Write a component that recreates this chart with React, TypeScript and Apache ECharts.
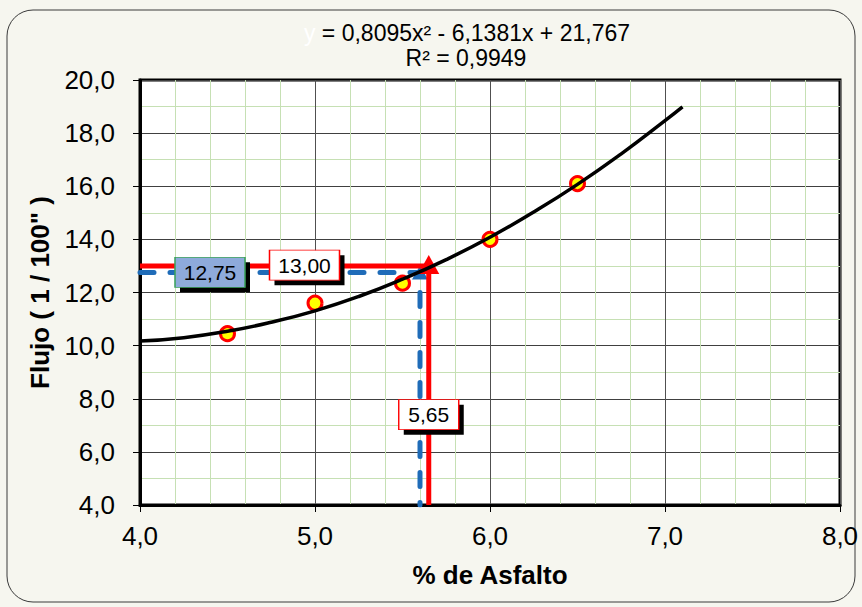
import React, { useEffect, useRef } from "react";
import * as echarts from "echarts";

// Measured points (% asfalto, flujo)
const asphaltPct = [4.5, 5.0, 5.5, 6.0, 6.5];
const flowValues = [10.45, 11.6, 12.35, 14.0, 16.1];

// Trendline
const trendX = [4.0, 4.25, 4.5, 4.75, 5.0, 5.25, 5.5, 5.75, 6.0, 6.25, 6.5, 6.75, 7.0, 7.1];
const trendY = [10.17, 10.3, 10.54, 10.88, 11.31, 11.85, 12.5, 13.24, 14.08, 15.03, 16.07, 17.22, 18.47, 18.99];

// Reading lines
const redPath = [[4.0, 13.0], [5.65, 13.0], [5.65, 4.0]];
const bluePath = [[4.0, 12.75], [5.6, 12.75], [5.6, 4.0]];

// Callout labels
const labelNames = ["12,75", "13,00", "5,65"];
const labelX = [4.4, 4.94, 5.65];
const labelY = [12.76, 13.03, 7.4];

// Callout styles
const labelFill = ["#8eaadb", "#ffffff", "#ffffff"];
const labelBorder = ["#3aa15a", "#ff0000", "#ff0000"];
const labelBoxW = [70, 70, 60];
const labelBoxH = 30;

const equationText = "= 0,8095x² - 6,1381x + 21,767";
const r2Text = "R² = 0,9949";

const fmt = (v: number) => v.toFixed(1).replace(".", ",");
const FONT = "'Liberation Sans', Arial, sans-serif";

export default function App() {
  const ref = useRef<HTMLDivElement>(null);
  useEffect(() => {
    document.body.style.margin = "0";
    const chart = echarts.init(ref.current!, null, { renderer: "svg" });
    chart.setOption({
      animation: false,
      backgroundColor: "#f6f6ef",
      textStyle: { fontFamily: FONT },
      graphic: [
        {
          type: "rect",
          shape: { x: 7, y: 10, width: 848, height: 592, r: 26 },
          style: { fill: "none", stroke: "#3a3a3a", lineWidth: 1 },
          z: -1,
        },
        {
          type: "text",
          x: 467,
          y: 33,
          style: {
            text: "{w|y} " + equationText,
            rich: { w: { fill: "#ffffff", fontSize: 23, fontFamily: FONT } },
            fontSize: 23,
            fontFamily: FONT,
            fill: "#000",
            align: "center",
            verticalAlign: "middle",
          },
        },
        {
          type: "text",
          x: 466,
          y: 58,
          style: {
            text: r2Text,
            fontSize: 23,
            fontFamily: FONT,
            fill: "#000",
            align: "center",
            verticalAlign: "middle",
          },
        },
      ],
      grid: {
        left: 140,
        right: 22,
        top: 80,
        bottom: 102,
        show: true,
        backgroundColor: "#ffffff",
        borderWidth: 3,
        borderColor: "#000",
      },
      xAxis: {
        type: "value",
        min: 4,
        max: 8,
        interval: 1,
        name: "% de Asfalto",
        nameLocation: "middle",
        nameGap: 57,
        nameTextStyle: { fontFamily: FONT, fontSize: 26, fontWeight: "bold", color: "#000" },
        axisLine: { show: true, onZero: false, lineStyle: { color: "#000", width: 3 } },
        axisTick: { show: true, inside: false, length: 7, lineStyle: { color: "#000", width: 1 } },
        axisLabel: { formatter: fmt, fontFamily: FONT, fontSize: 26, color: "#000", margin: 18 },
        splitLine: { show: true, lineStyle: { color: "#505050", width: 1 } },
        minorTick: { show: false, splitNumber: 5 },
        minorSplitLine: { show: true, lineStyle: { color: "#c6e0b4", width: 1 } },
      },
      yAxis: {
        type: "value",
        min: 4,
        max: 20,
        interval: 2,
        name: 'Flujo ( 1 / 100" )',
        nameLocation: "middle",
        nameGap: 87,
        nameTextStyle: { fontFamily: FONT, fontSize: 26, fontWeight: "bold", color: "#000" },
        axisLine: { show: true, onZero: false, lineStyle: { color: "#000", width: 3 } },
        axisTick: { show: true, inside: false, length: 7, lineStyle: { color: "#000", width: 1 } },
        axisLabel: { formatter: fmt, fontFamily: FONT, fontSize: 26, color: "#000", margin: 25 },
        splitLine: { show: true, lineStyle: { color: "#404040", width: 1 } },
        minorTick: { show: false, splitNumber: 2 },
        minorSplitLine: { show: true, lineStyle: { color: "#c6e0b4", width: 1 } },
      },
      series: [
        {
          type: "scatter",
          data: asphaltPct.map((x, i) => [x, flowValues[i]]),
          symbol: "circle",
          symbolSize: 14,
          itemStyle: { color: "#ffff00", borderColor: "#ff0000", borderWidth: 3, opacity: 1 },
          z: 2,
        },
        {
          type: "line",
          data: bluePath,
          symbol: "none",
          lineStyle: { color: "#1f6cb8", width: 5, type: [14, 16], cap: "round" },
          z: 3,
        },
        {
          type: "scatter",
          data: [[5.6, 12.75]],
          symbol: "triangle",
          symbolSize: [16, 14],
          itemStyle: { color: "#1f6cb8", opacity: 1 },
          z: 3,
        },
        {
          type: "line",
          data: redPath,
          symbol: "none",
          lineStyle: { color: "#ff0000", width: 5 },
          z: 4,
        },
        {
          type: "scatter",
          data: [[5.65, 13.05]],
          symbol: "triangle",
          symbolSize: [21, 19],
          itemStyle: { color: "#ff0000", opacity: 1 },
          z: 4,
        },
        {
          type: "line",
          data: trendX.map((x, i) => [x, trendY[i]]),
          smooth: true,
          symbol: "none",
          lineStyle: { color: "#000", width: 3.5 },
          z: 5,
        },
        {
          type: "scatter",
          silent: true,
          symbol: "rect",
          z: 9,
          data: labelNames.map((n, i) => ({
            name: n,
            value: [labelX[i], labelY[i]],
            symbolSize: [labelBoxW[i], labelBoxH],
            symbolOffset: [5, 5],
            itemStyle: { color: "#000", opacity: 1 },
          })),
        },
        {
          type: "scatter",
          silent: true,
          symbol: "rect",
          z: 10,
          data: labelNames.map((n, i) => ({
            name: n,
            value: [labelX[i], labelY[i]],
            symbolSize: [labelBoxW[i], labelBoxH],
            itemStyle: { color: labelFill[i], borderColor: labelBorder[i], borderWidth: 1, opacity: 1 },
          })),
          label: {
            show: true,
            position: "inside",
            formatter: "{b}",
            fontFamily: FONT,
            fontSize: 21,
            color: "#000",
          },
        },
      ],
    });
    return () => chart.dispose();
  }, []);
  return <div ref={ref} style={{ width: 862, height: 607 }} />;
}
